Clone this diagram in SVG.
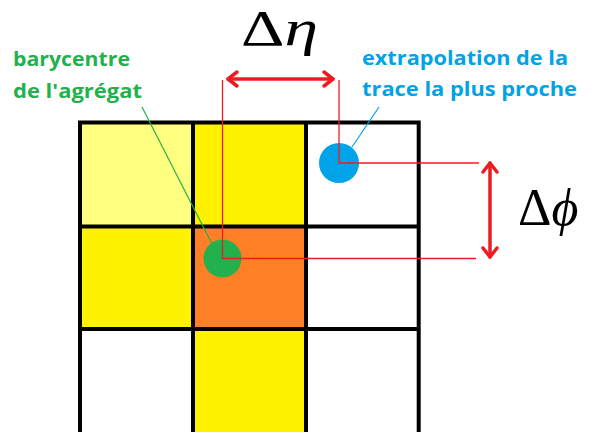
<svg xmlns="http://www.w3.org/2000/svg" width="598" height="432" viewBox="0 0 598 432">
<style>
.grid{stroke:#000;stroke-width:4;fill:none}
.thin{stroke:#ED1C24;stroke-width:1.3;fill:none}
.arr{stroke:#ED1C24;stroke-width:3.5;fill:none;stroke-linecap:round;stroke-linejoin:round}
.lg{font-family:"Open Sans","Liberation Sans",sans-serif;font-weight:bold;font-size:20px}
.math{font-family:"Liberation Serif","DejaVu Serif",serif}
</style>
<rect width="598" height="432" fill="#fff"/>
<g id="cells">
<rect x="80" y="122.5" width="113" height="104" fill="#FFFF80"/>
<rect x="193" y="122.5" width="113" height="104" fill="#FFF200"/>
<rect x="80" y="226.5" width="113" height="102.5" fill="#FFF200"/>
<rect x="193" y="226.5" width="113" height="102.5" fill="#FF7F27"/>
<rect x="193" y="329" width="113" height="103" fill="#FFF200"/>
</g>
<g id="grid" class="grid">
<path d="M80 434V122.5H418.7V434"/>
<path d="M193 122.5V434M306 122.5V434"/>
<path d="M80 226.5H418.7M80 329H418.7"/>
</g>
<g id="connectors">
<path class="thin" d="M222.5 80V258.5H476"/>
<path class="thin" d="M339 80V163H479"/>
<path d="M142 107L212 244" stroke="#22B14C" stroke-width="1.2"/>
<path d="M379 107L352 147" stroke="#00A2E8" stroke-width="1.2"/>
<g id="deta-arrow" class="arr">
<path d="M228 79H333"/>
<path d="M237 72L228 79L237 86"/>
<path d="M324 72L333 79L324 86"/>
</g>
<g id="dphi-arrow" class="arr">
<path d="M490 163V257"/>
<path d="M483 172L490 163L497 172"/>
<path d="M483 248L490 257L497 248"/>
</g>
</g>
<g id="barycentre">
<circle cx="222.5" cy="258.5" r="19" fill="#22B14C"/>
</g>
<path class="thin" d="M222.5 240V258.5H241"/>
<g id="trace">
<circle cx="339" cy="163" r="20" fill="#00A2E8"/>
</g>
<path class="thin" d="M339 143V163H359"/>
<g id="label-barycentre" class="lg" fill="#22B14C">
<text x="13" y="66" textLength="117" lengthAdjust="spacingAndGlyphs">barycentre</text>
<text x="13" y="98" textLength="129" lengthAdjust="spacingAndGlyphs">de l'agrégat</text>
</g>
<g id="label-trace" class="lg" fill="#00A2E8">
<text x="362" y="65" textLength="206" lengthAdjust="spacingAndGlyphs">extrapolation de la</text>
<text x="362" y="96" textLength="215" lengthAdjust="spacingAndGlyphs">trace la plus proche</text>
</g>
<g id="label-deta" class="math">
<text x="241" y="45" font-size="50" textLength="77" lengthAdjust="spacingAndGlyphs">Δ<tspan font-style="italic">η</tspan></text>
</g>
<g id="label-dphi" class="math">
<text x="518" y="225" font-size="52">Δ<tspan font-style="italic">ϕ</tspan></text>
</g>
</svg>
